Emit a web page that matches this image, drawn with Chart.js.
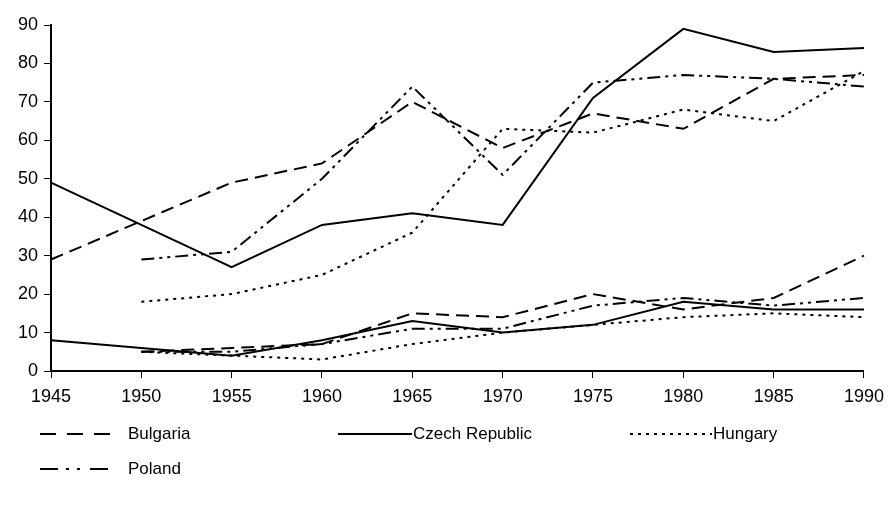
<!DOCTYPE html>
<html>
<head>
<meta charset="utf-8">
<script src="https://cdn.jsdelivr.net/npm/chart.js@4/dist/chart.umd.min.js"></script>
<style>
  html, body { margin: 0; padding: 0; background: #fff; }
  #wrap { width: 892px; height: 505px; }
</style>
</head>
<body>
<div id="wrap"><canvas id="chart" width="892" height="505"></canvas></div>
<script>
const years = ["1945", "1950", "1955", "1960", "1965", "1970", "1975", "1980", "1985", "1990"];

// two series per country (upper group and lower group)
const bulgariaHigh = [29, 39, 49, 54, 70, 58, 67, 63, 76, 77];
const bulgariaLow  = [null, 5, 6, 7, 15, 14, 20, 16, 19, 30];
const czechHigh    = [49, 38, 27, 38, 41, 38, 71, 89, 83, 84];
const czechLow     = [8, 6, 4, 8, 13, 10, 12, 18, 16, 16];
const hungaryHigh  = [null, 18, 20, 25, 36, 63, 62, 68, 65, 78];
const hungaryLow   = [null, 5, 4, 3, 7, 10, 12, 14, 15, 14];
const polandHigh   = [null, 29, 31, 50, 74, 51, 75, 77, 76, 74];
const polandLow    = [null, 5, 5, 7, 11, 11, 17, 19, 17, 19];

const countries = ["Bulgaria", "Czech Republic", "Hungary", "Poland"];

const FONT = "Arial, 'Liberation Sans', sans-serif";
const dashes = {
  "Bulgaria": [13, 7],
  "Czech Republic": [],
  "Hungary": [3, 5],
  "Poland": [13, 5, 3, 5, 3, 5]
};
// legend samples are a bit more spread out than the plot lines
const legendDashes = {
  "Bulgaria": [16, 11],
  "Czech Republic": [],
  "Hungary": [3, 5],
  "Poland": [18, 8, 3, 8, 3, 10]
};

function line(name, data) {
  return {
    label: name,
    data: data,
    borderColor: "#000",
    borderWidth: 2,
    borderDash: dashes[name],
    pointRadius: 0,
    fill: false,
    tension: 0,
    spanGaps: false
  };
}

// legend drawn below the axis, one entry per country
const legendPlugin = {
  id: "bottomLegend",
  afterDraw(chart) {
    const ctx = chart.ctx;
    const spots = [
      { x: 40, y: 434, len: 70, tx: 128 },
      { x: 338, y: 434, len: 74, tx: 413 },
      { x: 630, y: 434, len: 82, tx: 713 },
      { x: 40, y: 469, len: 68, tx: 128 }
    ];
    ctx.save();
    ctx.font = "17px " + FONT;
    ctx.fillStyle = "#000";
    ctx.textBaseline = "middle";
    countries.forEach((name, i) => {
      const s = spots[i];
      ctx.beginPath();
      ctx.setLineDash(legendDashes[name]);
      ctx.lineWidth = 2;
      ctx.strokeStyle = "#000";
      ctx.moveTo(s.x, s.y);
      ctx.lineTo(s.x + s.len, s.y);
      ctx.stroke();
      ctx.setLineDash([]);
      ctx.fillText(name, s.tx, s.y);
    });
    ctx.restore();
  }
};

new Chart(document.getElementById("chart"), {
  type: "line",
  data: {
    labels: years,
    datasets: [
      line("Bulgaria", bulgariaHigh),
      line("Bulgaria", bulgariaLow),
      line("Czech Republic", czechHigh),
      line("Czech Republic", czechLow),
      line("Hungary", hungaryHigh),
      line("Hungary", hungaryLow),
      line("Poland", polandHigh),
      line("Poland", polandLow)
    ]
  },
  options: {
    responsive: false,
    animation: false,
    layout: { padding: { top: 25, right: 26, left: 0, bottom: 0 } },
    plugins: {
      legend: { display: false },
      tooltip: { enabled: false }
    },
    scales: {
      x: {
        offset: false,
        afterFit: (s) => { s.height = 134; },
        grid: { drawOnChartArea: false, drawTicks: true, tickLength: 7, color: "#000", offset: false },
        border: { color: "#000", width: 2 },
        ticks: { color: "#000", font: { family: FONT, size: 18 }, padding: 8, maxRotation: 0, autoSkip: false }
      },
      y: {
        min: 0,
        max: 90,
        afterFit: (s) => { s.width = 51; },
        grid: { drawOnChartArea: false, drawTicks: true, tickLength: 7, color: "#000" },
        border: { color: "#000", width: 2 },
        ticks: { stepSize: 10, color: "#000", font: { family: FONT, size: 18 }, padding: 6 }
      }
    }
  },
  plugins: [legendPlugin]
});
</script>
</body>
</html>
